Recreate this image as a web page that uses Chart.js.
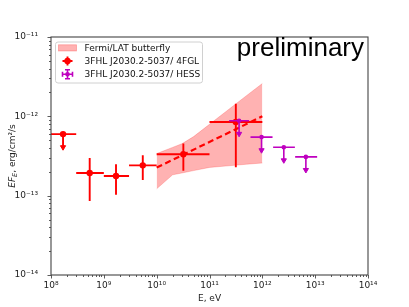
<!DOCTYPE html>
<html><head><meta charset="utf-8">
<script src="https://cdn.jsdelivr.net/npm/chart.js@4.4.1/dist/chart.umd.min.js"></script>
<style>html,body{margin:0;padding:0;background:#fff;}#wrap{width:409px;height:307px;}</style>
</head><body><div id="wrap"><canvas id="c" width="409" height="307"></canvas></div>
<script>
// ---- data ----
const fglE   = [1.69e8, 5.4e8, 1.7e9, 5.46e9, 3.2e10, 3.15e11];
const fglElo = [1.0e8, 3.0e8, 1.0e9, 3.0e9, 1.0e10, 1.0e11];
const fglEhi = [3.0e8, 1.0e9, 3.0e9, 1.0e10, 1.0e11, 1.0e12];
const fglF   = [5.97e-13, 1.93e-13, 1.77e-13, 2.41e-13, 3.33e-13, 8.49e-13];
const fglFlo = [null, 8.57e-14, 1.03e-13, 1.58e-13, 2.06e-13, 2.28e-13];
const fglFhi = [null, 2.98e-13, 2.48e-13, 3.24e-13, 4.54e-13, 1.44e-12];
const fglUL  = [true, false, false, false, false, false];

const hessE   = [3.63e11, 9.66e11, 2.55e12, 6.67e12];
const hessElo = [2.35e11, 5.97e11, 1.60e12, 4.18e12];
const hessEhi = [5.62e11, 1.56e12, 4.13e12, 1.09e13];
const hessF   = [8.8e-13, 5.47e-13, 4.08e-13, 3.08e-13];
const hessUL  = [true, true, true, true];

const bflyE     = [1e10, 2e10, 3e10, 5e10, 1e11, 2e11, 5e11, 1e12];
const bflyUpper = [3.39e-13, 4.06e-13, 4.51e-13, 5.55e-13, 7.94e-13, 1.135e-12, 1.82e-12, 2.59e-12];
const bflyLower = [1.22e-13, 1.83e-13, 1.93e-13, 2.07e-13, 2.27e-13, 2.36e-13, 2.49e-13, 2.58e-13];
const modelE = [1e10, 1e12];
const modelF = [2.26e-13, 1.0e-12];

const legendLabels = ['Fermi/LAT butterfly', '3FHL J2030.2-5037/ 4FGL', '3FHL J2030.2-5037/ HESS'];
const xTitle = 'E, eV';
const annotation = 'preliminary';
const UL_DROP = 0.684;

const FONT = 'DejaVu Sans';
const RED = '#ff0000', MAG = '#bf00bf', FILL = 'rgba(255,0,0,0.3)';

const SUP = {'0':'⁰','1':'¹','2':'²','3':'³','4':'⁴','5':'⁵','6':'⁶','7':'⁷','8':'⁸','9':'⁹','-':'⁻'};
function pow10Label(v){ const l=Math.log10(v), r=Math.round(l); if(Math.abs(l-r)>1e-6) return ''; return '10'+String(r).split('').map(c=>SUP[c]).join(''); }
function logTicks(a,b){ const t=[]; for(let n=a;n<b;n++) for(let m=1;m<10;m++) t.push({value:m*Math.pow(10,n), major:m===1}); t.push({value:Math.pow(10,b), major:true}); return t; }

function hbars(E,lo,hi,F){ const d=[]; E.forEach((e,i)=>{ d.push({x:lo[i],y:F[i]},{x:hi[i],y:F[i]},{x:hi[i],y:null}); }); return d; }
function vbars(E,lo,hi){ const d=[]; E.forEach((e,i)=>{ if(lo[i]==null) return; d.push({x:e,y:lo[i]},{x:e,y:hi[i]},{x:e,y:null}); }); return d; }
function arrows(E,F,ul){ const d=[]; E.forEach((e,i)=>{ if(!ul[i]) return; d.push({x:e,y:F[i]},{x:e,y:F[i]*UL_DROP,tip:true},{x:e,y:null}); }); return d; }
function pts(E,F){ return E.map((e,i)=>({x:e,y:F[i]})); }

const tipR = c => (c.raw && c.raw.tip) ? 3 : 0;

const datasets = [
  {label:legendLabels[0], data:pts(bflyE,bflyUpper), showLine:true, fill:'+1', backgroundColor:FILL, borderColor:'rgba(255,0,0,0.25)', borderWidth:0.8, pointRadius:0, order:10},
  {label:'_lower', data:pts(bflyE,bflyLower), showLine:true, fill:false, borderColor:'rgba(255,0,0,0.25)', borderWidth:0.8, pointRadius:0, order:10},
  {label:'_model', data:pts(modelE,modelF), showLine:true, borderColor:RED, borderWidth:2.2, borderDash:[6,3.5], pointRadius:0, order:9},
  {label:'_fglh', data:hbars(fglE,fglElo,fglEhi,fglF), showLine:true, borderColor:RED, borderWidth:1.9, pointRadius:0, order:6},
  {label:'_fglv', data:vbars(fglE,fglFlo,fglFhi), showLine:true, borderColor:RED, borderWidth:1.9, pointRadius:0, order:6},
  {label:'_fglul', data:arrows(fglE,fglF,fglUL), showLine:true, borderColor:RED, borderWidth:1.9, pointStyle:'triangle', pointRotation:180, pointRadius:tipR, pointBackgroundColor:RED, pointBorderColor:RED, pointBorderWidth:1, order:6},
  {label:legendLabels[1], data:pts(fglE,fglF), pointRadius:3.2, pointBackgroundColor:RED, pointBorderColor:RED, pointBorderWidth:0, order:5},
  {label:'_hessh', data:hbars(hessE,hessElo,hessEhi,hessF), showLine:true, borderColor:MAG, borderWidth:1.6, pointRadius:0, order:3},
  {label:'_hessul', data:arrows(hessE,hessF,hessUL), showLine:true, borderColor:MAG, borderWidth:1.6, pointStyle:'triangle', pointRotation:180, pointRadius:tipR, pointBackgroundColor:MAG, pointBorderColor:MAG, pointBorderWidth:1, order:3},
  {label:legendLabels[2], data:pts(hessE,hessF), pointRadius:2.3, pointBackgroundColor:MAG, pointBorderColor:MAG, pointBorderWidth:0, order:2}
];

const decor = {
  id:'decor',
  afterDraw(chart){
    const ctx=chart.ctx, a=chart.chartArea, xs=chart.scales.x, ys=chart.scales.y;
    ctx.save();
    // ticks
    ctx.strokeStyle='#333'; ctx.lineWidth=0.8;
    xs.ticks.forEach(t=>{ const p=Math.round(xs.getPixelForValue(t.value))+0.5, L=t.major?3.5:2; ctx.beginPath(); ctx.moveTo(p,a.bottom); ctx.lineTo(p,a.bottom+L); ctx.stroke(); });
    ys.ticks.forEach(t=>{ const p=Math.round(ys.getPixelForValue(t.value))+0.5, L=t.major?3.5:2; ctx.beginPath(); ctx.moveTo(a.left,p); ctx.lineTo(a.left-L,p); ctx.stroke(); });
    // frame
    ctx.strokeStyle='#444'; ctx.lineWidth=1.1;
    ctx.strokeRect(a.left, a.top, a.right-a.left, a.bottom-a.top);
    // legend
    const bx=55, by=41.5, bw=147, bh=41;
    ctx.beginPath(); ctx.roundRect(bx+0.5,by+0.5,bw,bh,2.5); ctx.fillStyle='rgba(255,255,255,0.85)'; ctx.fill(); ctx.strokeStyle='#d0d0d0'; ctx.lineWidth=1; ctx.stroke();
    const rows=[47.8,61,74.3], hx=58.5, hw=18, tx=84.5;
    ctx.fillStyle=FILL; ctx.fillRect(hx,rows[0]-3,hw,6.2); ctx.strokeStyle='rgba(255,0,0,0.3)'; ctx.lineWidth=0.8; ctx.strokeRect(hx,rows[0]-3,hw,6.2);
    const cx=hx+hw/2;
    ctx.strokeStyle=RED; ctx.lineWidth=1.9;
    ctx.beginPath(); ctx.moveTo(cx-5,rows[1]); ctx.lineTo(cx+5,rows[1]); ctx.moveTo(cx,rows[1]-4.5); ctx.lineTo(cx,rows[1]+4.5); ctx.stroke();
    ctx.fillStyle=RED; ctx.beginPath(); ctx.arc(cx,rows[1],3.2,0,Math.PI*2); ctx.fill();
    ctx.strokeStyle=MAG; ctx.lineWidth=1.6;
    ctx.beginPath(); ctx.moveTo(cx-5,rows[2]); ctx.lineTo(cx+5,rows[2]); ctx.moveTo(cx,rows[2]-4.5); ctx.lineTo(cx,rows[2]+4.5);
    ctx.moveTo(cx-5,rows[2]-2.5); ctx.lineTo(cx-5,rows[2]+2.5); ctx.moveTo(cx+5,rows[2]-2.5); ctx.lineTo(cx+5,rows[2]+2.5);
    ctx.moveTo(cx-2.5,rows[2]-4.5); ctx.lineTo(cx+2.5,rows[2]-4.5); ctx.moveTo(cx-2.5,rows[2]+4.5); ctx.lineTo(cx+2.5,rows[2]+4.5); ctx.stroke();
    ctx.fillStyle=MAG; ctx.beginPath(); ctx.arc(cx,rows[2],2.3,0,Math.PI*2); ctx.fill();
    ctx.fillStyle='#111'; ctx.font='9px "'+FONT+'"'; ctx.textBaseline='middle'; ctx.textAlign='left';
    legendLabels.forEach((l,i)=>ctx.fillText(l,tx,rows[i]+0.5));
    // annotation
    ctx.font='26px "Liberation Sans"'; ctx.textAlign='right'; ctx.textBaseline='alphabetic'; ctx.fillStyle='#000';
    ctx.fillText(annotation, 364, 56);
    // y title
    ctx.translate(12, 156); ctx.rotate(-Math.PI/2);
    const parts=[{t:'EF',f:'italic 9px "'+FONT+'"',dy:0},{t:'E',f:'italic 6.5px "'+FONT+'"',dy:2},{t:', erg/cm²/s',f:'9px "'+FONT+'"',dy:0}];
    let W=0; parts.forEach(p=>{ctx.font=p.f; p.w=ctx.measureText(p.t).width; W+=p.w;});
    let x=-W/2; ctx.textAlign='left'; ctx.fillStyle='#222';
    parts.forEach(p=>{ ctx.font=p.f; ctx.fillText(p.t,x,3.2+p.dy); x+=p.w; });
    ctx.restore();
  }
};

new Chart(document.getElementById('c'), {
  type:'scatter',
  data:{datasets},
  options:{
    responsive:false, animation:false, devicePixelRatio:1,
    layout:{padding:{left:0,right:41,top:37,bottom:0}},
    elements:{line:{tension:0}},
    plugins:{legend:{display:false}, tooltip:{enabled:false}},
    scales:{
      x:{type:'logarithmic', min:1e8, max:1e14,
        afterBuildTicks:s=>{s.ticks=logTicks(8,14);}, afterFit:s=>{s.height=32;},
        grid:{display:false}, border:{display:false},
        ticks:{autoSkip:false, maxRotation:0, minRotation:0, padding:-3, font:{family:FONT,size:9}, color:'#222', callback:v=>pow10Label(v)},
        title:{display:true, text:xTitle, font:{family:FONT,size:9}, color:'#222', padding:{top:0,bottom:3}}},
      y:{type:'logarithmic', min:1e-14, max:1e-11,
        afterBuildTicks:s=>{s.ticks=logTicks(-14,-11);}, afterFit:s=>{s.width=51;},
        grid:{display:false}, border:{display:false},
        ticks:{autoSkip:false, padding:5, font:{family:FONT,size:9}, color:'#222', callback:v=>pow10Label(v)}}
    }
  },
  plugins:[decor]
});
</script></body></html>
